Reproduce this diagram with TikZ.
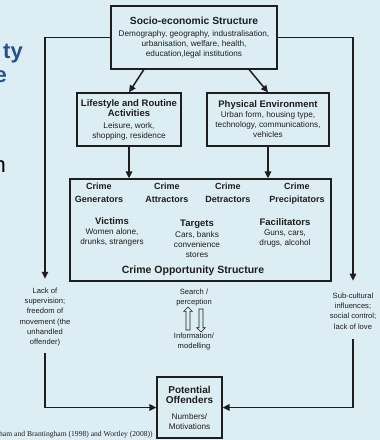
\documentclass[tikz,border=0pt]{standalone}
\usepackage{fontspec}
\setmainfont{Liberation Sans}
\newfontfamily\citefont{Liberation Serif}
\usetikzlibrary{arrows.meta,shapes.arrows,calc}

\definecolor{bgblue}{RGB}{220,237,243}
\definecolor{titleblue}{RGB}{38,80,140}
\definecolor{ink}{RGB}{30,30,30}

\newcommand{\headfont}{\fontsize{9.5}{11}\selectfont\bfseries}
\newcommand{\bigheadfont}{\fontsize{10.3}{12}\selectfont\bfseries}

\tikzset{
  box/.style={draw=ink, line width=1.3pt, fill=bgblue, align=center, inner sep=1pt, text=ink, font=\fontsize{8.2}{10}\selectfont},
  colhead/.style={anchor=north, align=center, inner sep=0pt, text=ink, font=\fontsize{9}{13}\selectfont\bfseries},
  group/.style={align=center, inner sep=0pt, text=ink, font=\fontsize{8.2}{10}\selectfont},
  note/.style={align=center, inner sep=0pt, text=ink, font=\fontsize{7.6}{10.2}\selectfont},
  link/.style={draw=ink, line width=1.5pt, -{Triangle[length=7pt,width=6.5pt]}},
  hollow/.style={single arrow, draw=ink, fill=bgblue, line width=0.6pt, inner sep=1.7pt, minimum height=23pt, single arrow head extend=2.3pt, single arrow head indent=0pt},
}

\begin{document}
\begin{tikzpicture}[x=1pt, y=-1pt]
  % Background and the cut-off slide text
  \fill[bgblue] (0,0) rectangle (380,440);
  \useasboundingbox (0,0) rectangle (380,440);
  \node[anchor=base east, inner sep=0pt, text=titleblue, font=\fontsize{22}{22}\selectfont\bfseries] (slideA) at (23,58) {ty};
  \node[anchor=base east, inner sep=0pt, text=titleblue, font=\fontsize{22}{22}\selectfont\bfseries] (slideB) at (7,82) {e};
  \node[anchor=base east, inner sep=0pt, font=\fontsize{22}{22}\selectfont] (slideC) at (6,172) {n};

  % Boxes
  \node[box, minimum width=166pt, minimum height=63pt] (socio) at (194,37.5)
    {\bigheadfont Socio-economic Structure\\[2pt] Demography, geography, industralisation,\\ urbanisation, welfare, health,\\ education,legal institutions};
  \node[box, minimum width=104pt, minimum height=53pt] (life) at (129,119.5)
    {\headfont Lifestyle and Routine\\ \headfont Activities\\[2pt] Leisure, work,\\ shopping, residence};
  \node[box, minimum width=122pt, minimum height=53pt] (phys) at (268,119.5)
    {\headfont Physical Environment\\ Urban form, housing type,\\ technology, communications,\\ vehicles};
  \node[box, minimum width=261pt, minimum height=102pt] (cos) at (200.5,230) {};
  \node[box, minimum width=65pt, minimum height=61pt] (pot) at (189.5,407.5)
    {\fontsize{10}{12}\selectfont\bfseries Potential\\ \fontsize{10}{12}\selectfont\bfseries Offenders\\[6pt] Numbers/\\ Motivations};

  % Inside the opportunity structure
  \node[colhead] (gen) at (99,183) {Crime\\Generators};
  \node[colhead] (att) at (167,183) {Crime\\Attractors};
  \node[colhead] (det) at (228,183) {Crime\\Detractors};
  \node[colhead] (pre) at (297,183) {Crime\\Precipitators};
  \node[group] (vic) at (112,232) {\headfont Victims\\ Women alone,\\ drunks, strangers};
  \node[group] (tar) at (197,239) {\headfont Targets\\[1pt] Cars, banks\\ convenience\\ stores};
  \node[group] (fac) at (285,233) {\headfont Facilitators\\ Guns, cars,\\ drugs, alcohol};
  \node[inner sep=0pt, text=ink, font=\fontsize{10.5}{12}\selectfont\bfseries] (cosname) at (193,271) {Crime Opportunity Structure};

  % Side notes
  \node[note] (lack) at (45,317) {Lack of\\supervision;\\freedom of\\movement (the\\unhandled\\offender)};
  \node[note] (sub) at (353,311) {Sub-cultural\\influences;\\social control;\\lack of love};
  \node[note] (search) at (194,297.5) {Search /\\perception};
  \node[note] (info) at (194,341.5) {Information/\\modelling};
  \node[hollow, rotate=90] (up) at (188,319.5) {};
  \node[hollow, rotate=-90] (down) at (201,319.5) {};

  % Connectors
  \draw[link] ($(socio.south west)!0.2!(socio.south east)$) -- (life.north);
  \draw[link] ($(socio.south west)!0.83!(socio.south east)$) -- (phys.north);
  \draw[link] (life.south) -- (life.south |- cos.north);
  \draw[link] (phys.south) -- (phys.south |- cos.north);
  \draw[link, shorten >=9pt] (socio.west) -| (lack.north);
  \draw[link, shorten >=12pt] (socio.east) -| (sub.north);
  \draw[link, shorten <=7pt] (lack.south) |- (pot.west);
  \draw[link, shorten <=10pt] (sub.south) |- (pot.east);

  % Source line
  \node[anchor=base west, inner sep=0pt, text=ink, font=\citefont\fontsize{7.6}{8}\selectfont] (cite) at (-1,436) {ham and Brantingham (1998) and Wortley (2008))};
\end{tikzpicture}
\end{document}
